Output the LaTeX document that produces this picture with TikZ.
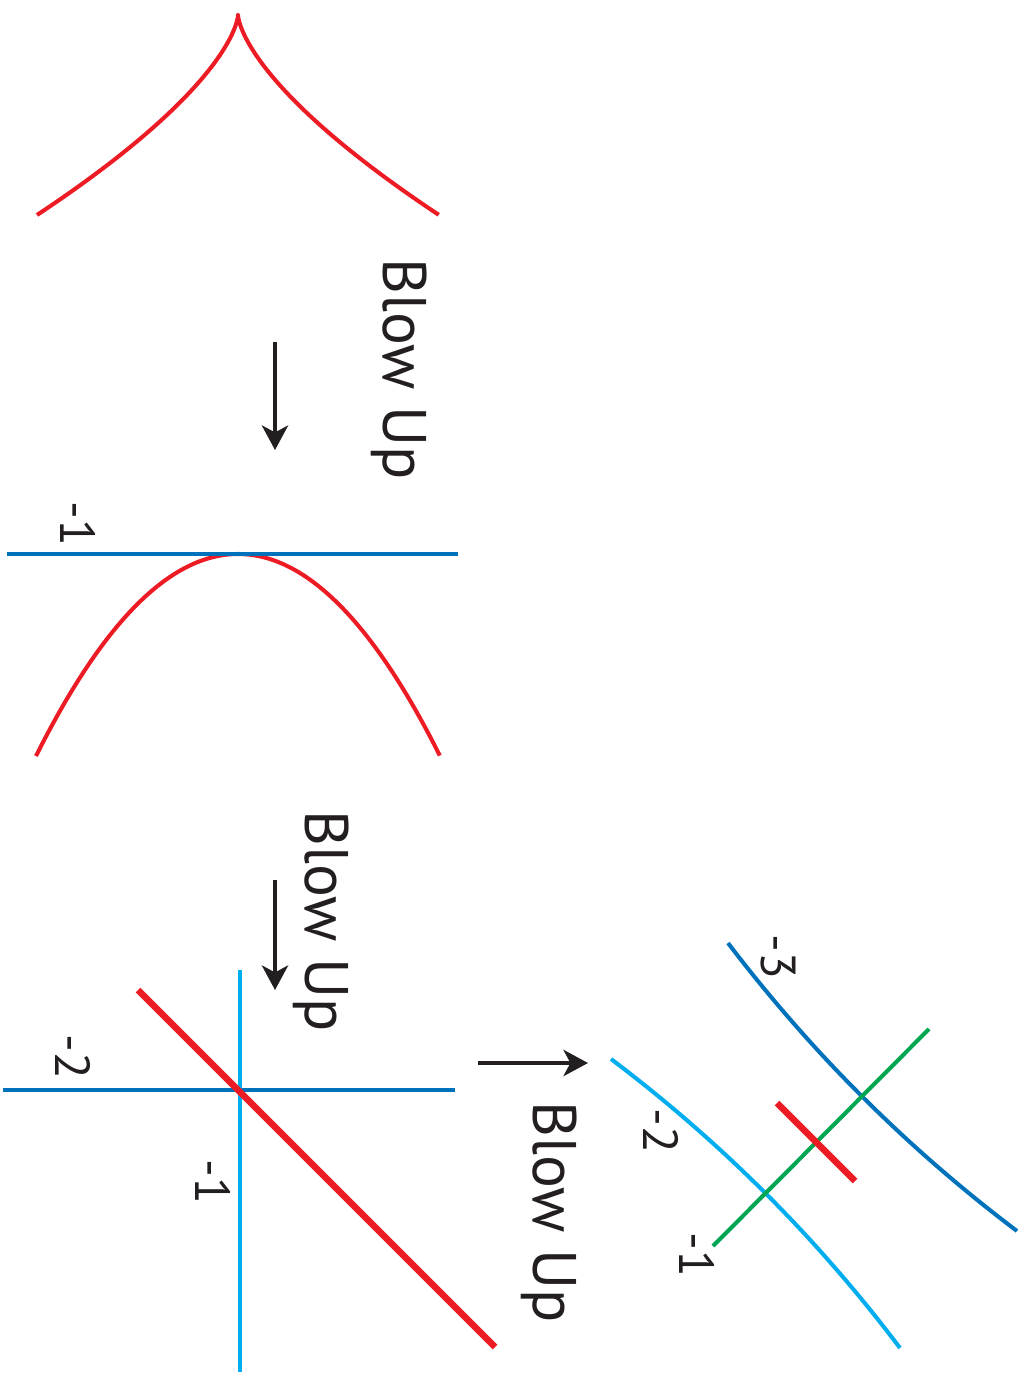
\documentclass[tikz,border=0pt]{standalone}
\usepackage{fontspec}
\setmainfont{PT Sans}
\usetikzlibrary{arrows.meta}
\definecolor{blowRed}{RGB}{237,28,36}
\definecolor{blowBlue}{RGB}{0,114,188}
\definecolor{blowCyan}{RGB}{0,174,239}
\definecolor{blowGreen}{RGB}{0,166,81}
\definecolor{blowInk}{RGB}{35,31,32}
\tikzset{
  blowarrow/.style={draw=blowInk, line width=0.95pt, -{Stealth[length=7pt, width=7.5pt, inset=2pt]}},
  blowtext/.style={text=blowInk, rotate=-90, inner sep=0pt, font=\fontsize{17.5}{20}\selectfont},
  multlabel/.style={text=blowInk, rotate=-90, inner sep=0pt, font=\fontsize{14}{16}\selectfont},
}
\begin{document}
\begin{tikzpicture}
% Blow-up sequence, coordinates given in pixels of the page
\def\pxsz{0.01cm}
\providecommand{\blowThinWidth}{1.15pt}
\providecommand{\blowThickWidth}{1.9pt}
\begin{scope}[x=\pxsz, y=-\pxsz, line cap=butt, line join=round]
  \useasboundingbox (0,0) rectangle (1026,1373);
  % Cusp
  \draw[blowRed, line width=\blowThinWidth] plot[domain=-1:1, samples=161] ({238+201*\x*\x*\x},{15+200*\x*\x});
  % First blow up
  \coordinate (arrA0) at (275,342);
  \coordinate (arrA1) at (275,450);
  \draw[blowarrow] (arrA0) -- (arrA1);
  \node[blowtext] (blowA) at (399,369) {Blow Up};
  % Tangent curve and exceptional line
  \draw[blowRed, line width=\blowThinWidth] plot[domain=-1:1, samples=101] ({238+202*\x},{554+202*\x*\x});
  \draw[blowBlue, line width=\blowThinWidth] (7,554) -- (458,554);
  \node[multlabel] (selfA) at (78,524) {-1};
  % Second blow up
  \coordinate (arrB0) at (275,880);
  \coordinate (arrB1) at (275,990);
  \draw[blowarrow] (arrB0) -- (arrB1);
  \node[blowtext] (blowB) at (321,921) {Blow Up};
  % Three lines through one point
  \draw[blowBlue, line width=\blowThinWidth] (3,1090) -- (455,1090);
  \draw[blowCyan, line width=\blowThinWidth] (240,970) -- (240,1372);
  \draw[blowRed, line width=\blowThickWidth] (138,990) -- (495,1347);
  \node[multlabel] (selfB) at (73,1057) {-2};
  \node[multlabel] (selfC) at (213,1182) {-1};
  % Third blow up
  \coordinate (arrC0) at (478,1063);
  \coordinate (arrC1) at (588,1063);
  \draw[blowarrow] (arrC0) -- (arrC1);
  \node[blowtext] (blowC) at (549,1212) {Blow Up};
  % Normal crossings
  \draw[blowBlue, line width=\blowThinWidth] (728,943) .. controls (811,1052) and (907,1148) .. (1017,1231);
  \draw[blowCyan, line width=\blowThinWidth] (611,1059) .. controls (721,1142) and (817,1238) .. (900,1348);
  \draw[blowGreen, line width=\blowThinWidth] (713,1246) -- (929,1029);
  \draw[blowRed, line width=\blowThickWidth] (777,1103) -- (855,1181);
  \node[multlabel] (selfD) at (778,957) {-3};
  \node[multlabel] (selfE) at (661,1131) {-2};
  \node[multlabel] (selfF) at (697,1255) {-1};
\end{scope}
\end{tikzpicture}
\end{document}
